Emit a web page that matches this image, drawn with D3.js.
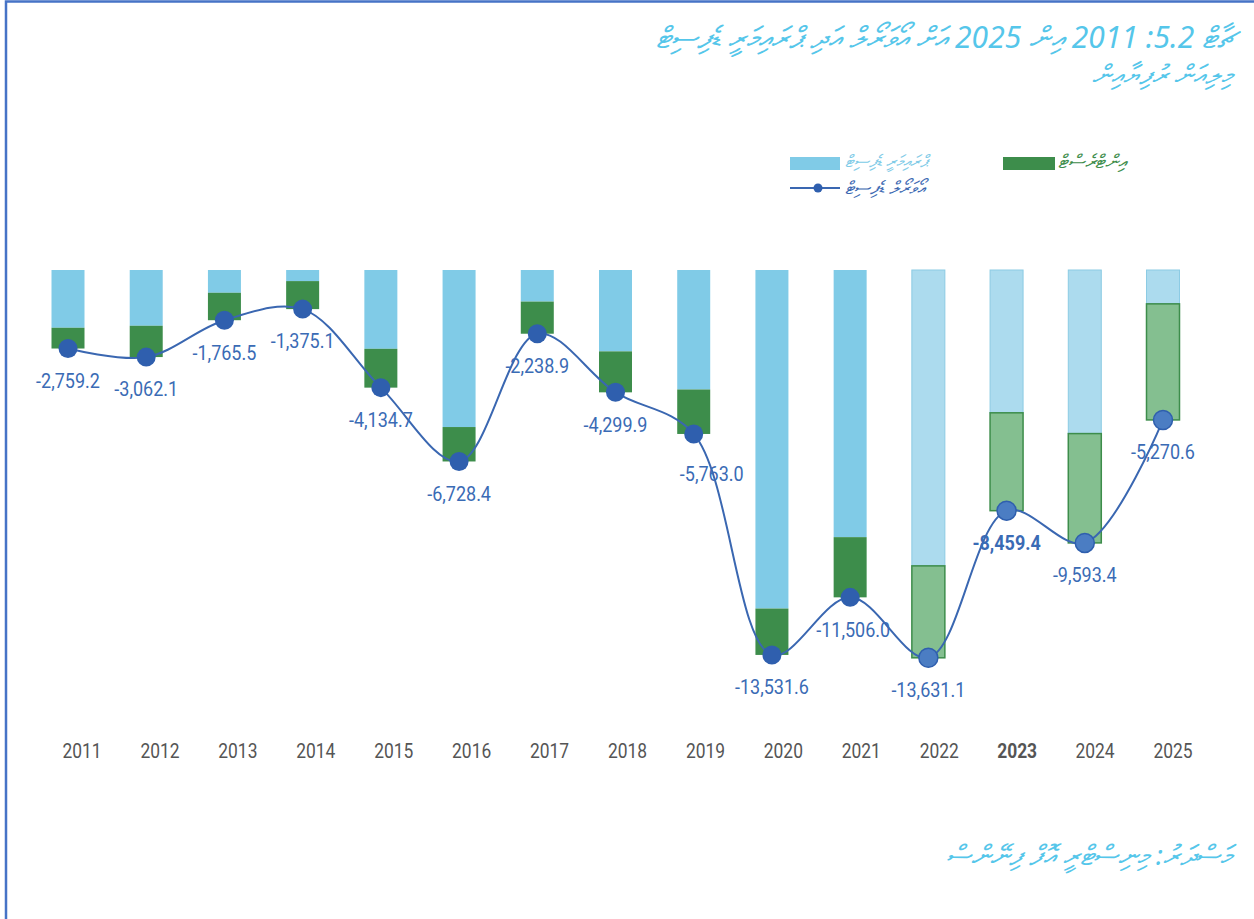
<!DOCTYPE html>
<html>
<head>
<meta charset="utf-8">
<script src="https://cdn.jsdelivr.net/npm/d3@7"></script>
<style>
  body { margin: 0; background: #fff; }
  svg { display: block; }
  .num { font-family: Roboto, "Noto Sans", sans-serif; }
  .dv { font-family: "Noto Sans", "DejaVu Sans", sans-serif; font-style: italic; }
</style>
</head>
<body>
<div id="chart"></div>
<script>
// Data (million rufiyaa)
const years = ['2011','2012','2013','2014','2015','2016','2017','2018','2019','2020','2021','2022','2023','2024','2025'];
const primaryDeficit = [-2030, -1960, -800, -390, -2770, -5520, -1110, -2860, -4200, -11900, -9390, -10400, -5020, -5750, -1190];
const interest = [-730, -1100, -965, -985, -1365, -1210, -1130, -1440, -1563, -1630, -2116, -3231, -3440, -3843, -4080];
const overallDeficit = [-2759.2, -3062.1, -1765.5, -1375.1, -4134.7, -6728.4, -2238.9, -4299.9, -5763.0, -13531.6, -11506.0, -13631.1, -8459.4, -9593.4, -5270.6];
const projectedYears = ['2022','2023','2024','2025'];

const titleText = 'ޗާޓް 5.2: 2011 އިން 2025 އަށް އޯވަރޯލް އަދި ޕްރައިމަރީ ޑެފިސިޓް';
const subtitleText = 'މިލިއަން ރުފިޔާއިން';
const sourceText = 'މަސްދަރު: މިނިސްޓްރީ އޮފް ފިނޭންސް';
const legendPrimary = 'ޕްރައިމަރީ ޑެފިސިޓް';
const legendInterest = 'އިންޓްރެސްޓް';
const legendOverall = 'އޯވަރޯލް ޑެފިސިޓް';

const colors = {
  primary: '#80cbe7', primaryProj: '#acdbee', primaryProjStroke: '#8ccbe4',
  interest: '#3d8d4b', interestProj: '#84bf90', interestProjStroke: '#3d8d4b',
  line: '#3a67b1', marker: '#2f5fae', markerProj: '#4b7dc3',
  label: '#3a6bb5', title: '#55c6ea', axis: '#555'
};

const width = 1254, height = 919;
const svg = d3.select('#chart').append('svg')
  .attr('width', width)
  .attr('height', height);

// frame (only left and top visible)
svg.append('rect')
  .attr('x', 6).attr('y', 1.5)
  .attr('width', 1400).attr('height', 1200)
  .attr('fill', 'none')
  .attr('stroke', '#4673c6')
  .attr('stroke-width', 2.5);

// scales
const x = d3.scalePoint().domain(years).range([68, 1163]);
const xLabel = d3.scalePoint().domain(years).range([82, 1173]);
const y = d3.scaleLinear().domain([0, -14000]).range([270, 668.3]);
const barW = 33;

const isProj = yr => projectedYears.includes(yr);
const rows = years.map((yr, i) => ({
  year: yr, primary: primaryDeficit[i], interest: interest[i], overall: overallDeficit[i]
}));

// primary deficit bars
svg.append('g').selectAll('rect')
  .data(rows).join('rect')
  .attr('x', d => x(d.year) - barW / 2)
  .attr('y', y(0))
  .attr('width', barW)
  .attr('height', d => y(d.primary) - y(0))
  .attr('fill', d => isProj(d.year) ? colors.primaryProj : colors.primary)
  .attr('stroke', d => isProj(d.year) ? colors.primaryProjStroke : 'none')
  .attr('stroke-width', 1);

// interest bars, stacked below
svg.append('g').selectAll('rect')
  .data(rows).join('rect')
  .attr('x', d => x(d.year) - barW / 2)
  .attr('y', d => y(d.primary))
  .attr('width', barW)
  .attr('height', d => y(d.primary + d.interest) - y(d.primary))
  .attr('fill', d => isProj(d.year) ? colors.interestProj : colors.interest)
  .attr('stroke', d => isProj(d.year) ? colors.interestProjStroke : 'none')
  .attr('stroke-width', 1.5);

// overall deficit line
const line = d3.line()
  .x(d => x(d.year))
  .y(d => y(d.overall))
  .curve(d3.curveCatmullRom.alpha(0.5));

svg.append('path')
  .datum(rows)
  .attr('d', line)
  .attr('fill', 'none')
  .attr('stroke', colors.line)
  .attr('stroke-width', 2);

svg.append('g').selectAll('circle')
  .data(rows).join('circle')
  .attr('cx', d => x(d.year))
  .attr('cy', d => y(d.overall))
  .attr('r', 9.5)
  .attr('fill', d => isProj(d.year) ? colors.markerProj : colors.marker)
  .attr('stroke', d => isProj(d.year) ? colors.marker : 'none')
  .attr('stroke-width', 1.5);

// value labels
const fmt = d3.format(',.1f');
const nudge = { '2019': { dx: 18, dy: 8 }, '2021': { dx: 3, dy: 0 } };
svg.append('g').selectAll('text')
  .data(rows).join('text')
  .attr('class', 'num')
  .attr('transform', d => {
    const n = nudge[d.year] || { dx: 0, dy: 0 };
    return `translate(${x(d.year) + n.dx},${y(d.overall) + 34 + n.dy}) scale(0.9,1)`;
  })
  .attr('text-anchor', 'middle')
  .attr('dominant-baseline', 'middle')
  .attr('font-size', 20)
  .attr('font-weight', d => d.year === '2023' ? 700 : 400)
  .attr('fill', colors.label)
  .text(d => fmt(d.overall).replace('−', '-'));

// x axis (labels only)
const axis = svg.append('g')
  .attr('transform', 'translate(0,753)')
  .call(d3.axisBottom(xLabel).tickSize(0).tickPadding(0));
axis.select('.domain').remove();
axis.selectAll('.tick').each(function (d) {
  d3.select(this).attr('transform', `translate(${xLabel(d)},0) scale(0.87,1)`);
});
axis.selectAll('.tick text')
  .attr('class', 'num')
  .attr('x', 0)
  .attr('y', 0)
  .attr('dy', 0)
  .attr('font-size', 20)
  .attr('fill', colors.axis)
  .attr('dominant-baseline', 'middle')
  .attr('font-weight', d => d === '2023' ? 700 : 400);

// title + subtitle
svg.append('text')
  .attr('class', 'dv')
  .attr('x', 1236).attr('y', 48)
  .attr('direction', 'rtl')
  .attr('text-anchor', 'start')
  .attr('font-size', 30)
  .attr('fill', colors.title)
  .text(titleText);

svg.append('text')
  .attr('class', 'dv')
  .attr('x', 1232).attr('y', 84)
  .attr('direction', 'rtl')
  .attr('text-anchor', 'start')
  .attr('font-size', 27)
  .attr('fill', colors.title)
  .text(subtitleText);

// legend
const lg = svg.append('g');
lg.append('rect').attr('x', 790).attr('y', 157).attr('width', 50).attr('height', 13).attr('fill', colors.primary);
lg.append('text').attr('class', 'dv').attr('x', 845).attr('y', 162)
  .attr('dominant-baseline', 'middle').attr('font-size', 17).attr('fill', colors.primary).text(legendPrimary);
lg.append('rect').attr('x', 1003).attr('y', 157).attr('width', 52).attr('height', 13).attr('fill', colors.interest);
lg.append('text').attr('class', 'dv').attr('x', 1058).attr('y', 163)
  .attr('dominant-baseline', 'middle').attr('font-size', 19).attr('fill', colors.interest).text(legendInterest);
lg.append('line').attr('x1', 790).attr('x2', 840).attr('y1', 188).attr('y2', 188)
  .attr('stroke', colors.line).attr('stroke-width', 2);
lg.append('circle').attr('cx', 818).attr('cy', 188).attr('r', 4.5).attr('fill', colors.marker);
lg.append('text').attr('class', 'dv').attr('x', 845).attr('y', 189)
  .attr('dominant-baseline', 'middle').attr('font-size', 18).attr('fill', colors.line).text(legendOverall);

// source
svg.append('text')
  .attr('class', 'dv')
  .attr('x', 1232).attr('y', 865)
  .attr('direction', 'rtl')
  .attr('text-anchor', 'start')
  .attr('font-size', 28)
  .attr('fill', colors.title)
  .text(sourceText);
</script>
</body>
</html>
